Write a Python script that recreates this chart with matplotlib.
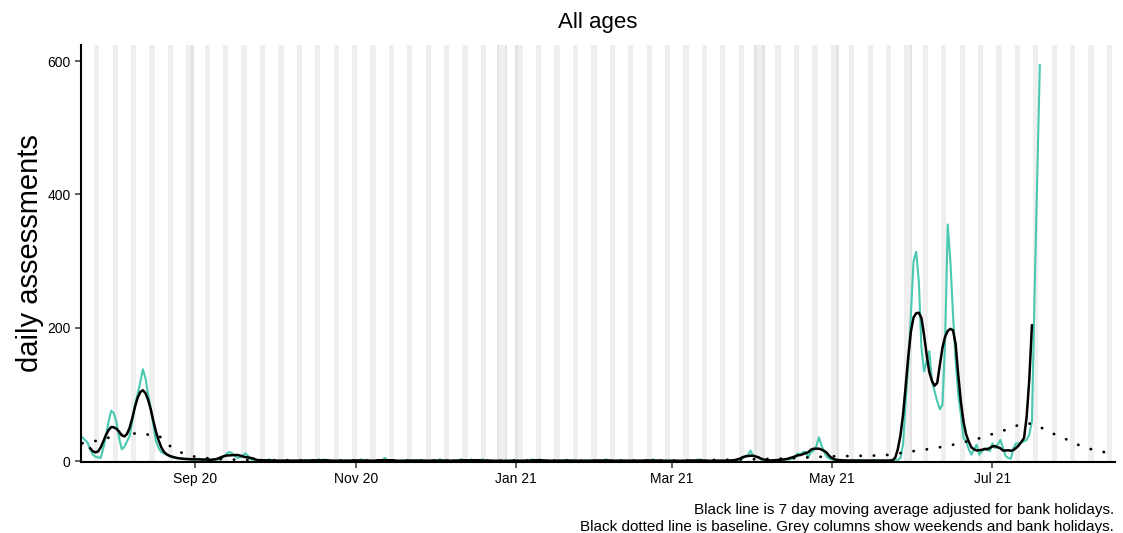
import numpy as np
import pandas as pd
import matplotlib
matplotlib.use("Agg")
import matplotlib.pyplot as plt
import matplotlib.dates as mdates

plt.rcParams['font.family'] = ['Liberation Sans', 'DejaVu Sans']

# daily assessments, one value per day from 20 Jul 2020
start_date = "2020-07-20"
jul20 = [36, 32, 28, 18, 10, 7, 6, 5, 20, 38, 60, 76]
aug20 = [72, 58, 35, 18, 22, 30, 38, 60, 85, 100, 118, 138, 125, 100, 80, 55,
         30, 20, 14, 12, 10, 8, 6, 5, 5, 4, 4, 3, 4, 3, 2]
sep20 = [3, 4, 3, 2, 3, 2, 2, 3, 2, 3, 4, 8, 12, 14, 12, 8, 5, 6, 9, 12, 8, 3,
         2, 1, 1, 2, 1, 1, 3, 1]
oct20 = [1, 1, 0, 1, 1, 2, 1, 1, 0, 1, 1, 1, 2, 1, 1, 1, 1, 3, 1, 3, 1, 1, 0,
         1, 1, 1, 1, 1, 1, 1, 1]
nov20 = [1, 1, 3, 1, 1, 0, 1, 1, 1, 1, 1, 5, 2, 1, 1, 1, 0, 1, 1, 1, 1, 1, 1,
         2, 1, 1, 1, 1, 0, 1]
dec20 = [1, 1, 3, 1, 1, 1, 0, 1, 1, 1, 3, 1, 1, 1, 3, 1, 1, 1, 3, 1, 1, 0, 1,
         1, 1, 1, 0, 1, 1, 1, 1]
jan21 = [1, 1, 1, 0, 1, 1, 3, 1, 1, 3, 1, 1, 1, 1, 0, 1, 1, 1, 1, 2, 1, 1, 1,
         1, 0, 1, 1, 1, 1, 1, 1]
feb21 = [1, 1, 1, 3, 1, 1, 0, 1, 1, 1, 1, 1, 1, 0, 1, 1, 1, 1, 1, 1, 1, 3, 1,
         1, 0, 1, 1, 1]
mar21 = [1, 1, 1, 0, 1, 1, 1, 1, 1, 1, 3, 1, 1, 1, 1, 0, 1, 1, 1, 1, 1, 1, 1,
         1, 1, 2, 3, 4, 8, 9, 16]
apr21 = [9, 7, 6, 3, 1, 1, 1, 1, 2, 1, 2, 3, 4, 3, 3, 4, 6, 12, 10, 14, 14, 6,
         14, 16, 22, 36, 24, 14, 7, 4]
may21 = [3, 2, 2, 1, 1, 2, 1, 1, 1, 1, 2, 1, 1, 1, 1, 1, 2, 1, 1, 1, 1, 1, 1,
         1, 1, 2, 5, 25, 90, 145, 220]
jun21 = [300, 314, 270, 170, 135, 150, 165, 120, 105, 90, 78, 85, 180, 355,
         300, 220, 150, 100, 70, 35, 30, 18, 10, 18, 25, 10, 15, 18, 20, 15]
jul21 = [27, 20, 25, 32, 20, 8, 5, 4, 20, 27, 27, 28, 30, 32, 40, 60, 250,
         420, 594]

# baseline (dotted line)
baseline_dates = ["2020-07-20", "2020-07-23", "2020-07-27", "2020-07-31",
                  "2020-08-03", "2020-08-07", "2020-08-11", "2020-08-14",
                  "2020-08-18", "2020-08-21", "2020-08-24", "2020-08-27",
                  "2020-08-31", "2020-09-04", "2020-09-08", "2020-09-20",
                  "2020-10-10", "2020-11-15", "2021-03-01", "2021-03-25",
                  "2021-04-12", "2021-04-25", "2021-05-01", "2021-05-16",
                  "2021-05-21", "2021-05-30", "2021-06-03", "2021-06-08",
                  "2021-06-13", "2021-06-18", "2021-06-23", "2021-06-28",
                  "2021-07-03", "2021-07-08", "2021-07-11", "2021-07-14",
                  "2021-07-18", "2021-07-22", "2021-07-27", "2021-08-01",
                  "2021-08-05", "2021-08-10", "2021-08-14"]
baseline_values = [27, 30, 31, 37, 40, 41, 42.5, 40, 39, 27, 18, 12.5, 7.5,
                   5.5, 3.5, 2, 1.5, 1, 1, 2.5, 4, 6.5, 7.5, 8.5, 9, 14, 16.5,
                   19, 22.5, 26.5, 31.5, 36.5, 44, 49, 55, 57.5, 54, 45, 36.5,
                   28, 20, 16.5, 12]

bank_holidays = ["2020-08-31", "2020-12-25", "2020-12-28", "2021-01-01",
                 "2021-04-02", "2021-04-05", "2021-05-03", "2021-05-31"]

x_start = pd.Timestamp("2020-07-19 12:00")
x_end = pd.Timestamp("2021-08-16 14:00")

daily = jul20 + aug20 + sep20 + oct20 + nov20 + dec20 + jan21 + feb21 + \
    mar21 + apr21 + may21 + jun21 + jul21
dates = pd.date_range(start_date, periods=len(daily), freq="D")
series = pd.Series(daily, index=dates, dtype=float)
avg7 = series.rolling(7, center=True).mean()

fig = plt.figure(figsize=(11.23, 5.33), dpi=100)
ax = fig.add_axes([81 / 1123, 1 - 462 / 533, (1115 - 81) / 1123, (462 - 45) / 533])

# grey columns: weekends and bank holidays
half = pd.Timedelta(hours=12)
for d in pd.date_range("2020-07-18", "2021-08-17", freq="D"):
    if d.weekday() >= 5:
        ax.axvspan(d - half, d + half, color="#EFEFEF", lw=0, zorder=0)
for h in bank_holidays:
    d = pd.Timestamp(h)
    ax.axvspan(d - half, d + half, color="#E4E4E4", lw=0, zorder=0)

ax.plot(dates, series.values, color="#48C9B0", lw=1.5, zorder=2)
ax.plot(dates, avg7.values, color="black", lw=1.8, zorder=3)
ax.plot(pd.to_datetime(baseline_dates), baseline_values, color="black", lw=2.0,
        linestyle=(0, (0.1, 4.7)), dash_capstyle="round", zorder=3)

ax.set_xlim(x_start, x_end)
ax.set_ylim(-1, 624)
ax.set_yticks([0, 200, 400, 600])
ax.set_xticks(pd.to_datetime(["2020-09-01", "2020-11-01", "2021-01-01",
                              "2021-03-01", "2021-05-01", "2021-07-01"]))
ax.xaxis.set_major_formatter(mdates.DateFormatter("%b %y"))

for s in ["top", "right"]:
    ax.spines[s].set_visible(False)
for s in ["left", "bottom"]:
    ax.spines[s].set_linewidth(1.5)
ax.tick_params(length=4, width=1.1, labelsize=10, colors="#333333",
               labelcolor="black")

fig.text(598 / 1123, 1 - 22 / 533, "All ages", fontsize=16, ha="center",
         va="center")
fig.text(30 / 1123, 1 - 253 / 533, "daily assessments", fontsize=21,
         rotation=90, ha="center", va="center")
fig.text(1114 / 1123, 1 - 510 / 533,
         "Black line is 7 day moving average adjusted for bank holidays.",
         fontsize=11, ha="right", va="center")
fig.text(1114 / 1123, 1 - 527.5 / 533,
         "Black dotted line is baseline. Grey columns show weekends and bank holidays.",
         fontsize=11, ha="right", va="center")

fig.savefig("out.png", dpi=100)
